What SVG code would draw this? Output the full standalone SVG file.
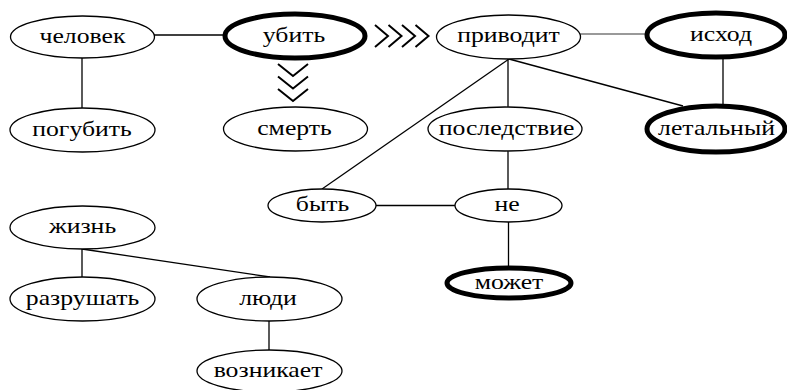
<svg xmlns="http://www.w3.org/2000/svg" width="787" height="390" viewBox="0 0 787 390">
<style>
.n{fill:#fff;stroke:#000;stroke-width:1.3}
.b{fill:#fff;stroke:#000;stroke-width:5}
text{font-family:'Liberation Serif','Times New Roman',serif;font-size:22px;fill:#000;text-anchor:middle}
.c line,.c path{stroke:#000;stroke-width:1.3;fill:none}
.c .g{stroke:#777}
.c .ch{stroke-width:2}
</style>
<rect width="787" height="390" fill="#fff"/>
<g class="c" id="connectors">
<line x1="154" y1="35" x2="226" y2="35"/>
<line x1="82" y1="58" x2="82" y2="108"/>
<line class="g" x1="580" y1="34" x2="648" y2="34"/>
<line x1="723" y1="57" x2="723" y2="106"/>
<line x1="508" y1="59" x2="508" y2="107"/>
<line x1="509" y1="59" x2="683" y2="106"/>
<line x1="509" y1="59" x2="322" y2="189"/>
<line x1="508" y1="151" x2="508" y2="189"/>
<line x1="376" y1="205.5" x2="455" y2="205.5"/>
<line x1="508.5" y1="222" x2="508.5" y2="268"/>
<line x1="82" y1="249" x2="82" y2="277"/>
<line x1="82" y1="249" x2="270" y2="277"/>
<line x1="269" y1="321" x2="269" y2="350"/>
<path class="ch" d="M375,25 L388,36 L375,47 M388.5,25 L401.5,36 L388.5,47 M402,25 L415,36 L402,47 M415.5,25 L428.5,36 L415.5,47"/>
<path class="ch" d="M278,64 L293,76 L308,64 M278,76.5 L293,88.5 L308,76.5 M278,89 L293,101 L308,89"/>
</g>
<g id="node-chelovek"><ellipse class="n" cx="82.5" cy="37" rx="72" ry="21"/><text transform="translate(82.5 42.5) scale(1.17 1)">человек</text></g>
<g id="node-ubit"><ellipse class="b" cx="295" cy="36" rx="70" ry="22"/><text transform="translate(294 42) scale(1.17 1)">убить</text></g>
<g id="node-privodit"><ellipse class="n" cx="508.5" cy="37" rx="72" ry="22"/><text transform="translate(508.5 42) scale(1.17 1)">приводит</text></g>
<g id="node-iskhod"><ellipse class="b" cx="716" cy="35" rx="69" ry="22"/><text transform="translate(721 41) scale(1.17 1)">исход</text></g>
<g id="node-pogubit"><ellipse class="n" cx="82.5" cy="130" rx="72.5" ry="22"/><text transform="translate(82 136) scale(1.17 1)">погубить</text></g>
<g id="node-smert"><ellipse class="n" cx="295.5" cy="129" rx="72" ry="22"/><text transform="translate(294.5 135) scale(1.17 1)">смерть</text></g>
<g id="node-posledstvie"><ellipse class="n" cx="505" cy="129" rx="77" ry="22"/><text transform="translate(506.5 135) scale(1.17 1)">последствие</text></g>
<g id="node-letalnyi"><ellipse class="b" cx="716" cy="129" rx="69" ry="23"/><text transform="translate(716.5 135) scale(1.17 1)">летальный</text></g>
<g id="node-byt"><ellipse class="n" cx="322" cy="205.5" rx="54" ry="16.5"/><text transform="translate(322.5 211) scale(1.17 1)">быть</text></g>
<g id="node-ne"><ellipse class="n" cx="508.5" cy="205.5" rx="53.5" ry="16.5"/><text transform="translate(507 211) scale(1.17 1)">не</text></g>
<g id="node-mozhet"><ellipse class="b" cx="509" cy="283" rx="62" ry="15"/><text transform="translate(509 289) scale(1.17 1)">может</text></g>
<g id="node-zhizn"><ellipse class="n" cx="82.5" cy="227.5" rx="72.5" ry="21.5"/><text transform="translate(82.5 233) scale(1.17 1)">жизнь</text></g>
<g id="node-razrushat"><ellipse class="n" cx="82.5" cy="299" rx="72.5" ry="22"/><text transform="translate(82.5 305) scale(1.17 1)">разрушать</text></g>
<g id="node-lyudi"><ellipse class="n" cx="269.5" cy="299" rx="72.5" ry="22"/><text transform="translate(268 305) scale(1.17 1)">люди</text></g>
<g id="node-voznikaet"><ellipse class="n" cx="269.5" cy="371" rx="72.5" ry="21"/><text transform="translate(268 377) scale(1.17 1)">возникает</text></g>
</svg>
